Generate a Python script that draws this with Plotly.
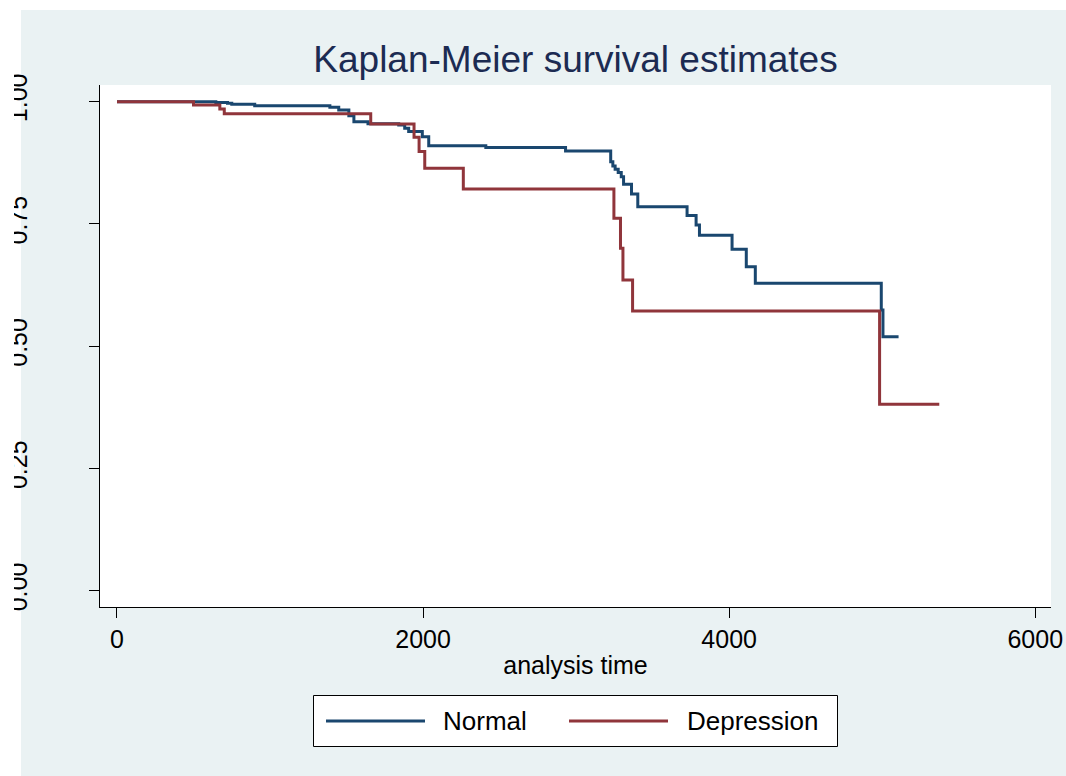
import plotly.graph_objects as go

# Kaplan-Meier step estimates by group (analysis time, survival probability)
normal_time = [0, 646, 722, 750, 900, 1391, 1449, 1515, 1548, 1640, 1841, 1880,
               1906, 1995, 2037, 2410, 2931, 3226, 3240, 3255, 3275, 3295, 3310,
               3362, 3403, 3725, 3784, 3806, 4019, 4112, 4171, 4994, 5005, 5107]
normal_surv = [1.0, 0.998, 0.9967, 0.9947, 0.9918, 0.9885, 0.983, 0.971, 0.959,
               0.955, 0.952, 0.9456, 0.9387, 0.9284, 0.910, 0.906, 0.899, 0.877,
               0.8685, 0.8617, 0.855, 0.8466, 0.831, 0.811, 0.785, 0.767, 0.748,
               0.727, 0.698, 0.6626, 0.6286, 0.574, 0.5194, 0.5194]

depr_time = [0, 500, 672, 701, 1658, 1941, 1974, 2011, 2263, 3247, 3290, 3306,
             3369, 4983, 5373]
depr_surv = [1.0, 0.9932, 0.985, 0.975, 0.9544, 0.927, 0.898, 0.864, 0.8215,
             0.7615, 0.700, 0.6354, 0.572, 0.381, 0.381]

x_ticks = [0, 2000, 4000, 6000]
y_ticks = [0, 0.25, 0.5, 0.75, 1.0]
y_tick_text = ["0.00", "0.25", "0.50", "0.75", "1.00"]

group_names = ["Normal", "Depression"]

NAVY = "#1a476f"
MAROON = "#90353b"
BG = "#eaf2f3"
FONT = "Liberation Sans, Arial, sans-serif"

W, H = 1066, 776
L, R, T, B = 100, 15, 85, 169

fig = go.Figure()
fig.add_trace(go.Scatter(x=normal_time, y=normal_surv, mode="lines",
                         name=group_names[0], showlegend=False,
                         line=dict(color=NAVY, width=3, shape="hv")))
fig.add_trace(go.Scatter(x=depr_time, y=depr_surv, mode="lines",
                         name=group_names[1], showlegend=False,
                         line=dict(color=MAROON, width=3, shape="hv")))

pw, ph = W - L - R, H - T - B


def px_x(p):
    return (p - L) / pw


def px_y(p):
    return (H - B - p) / ph


shapes = [
    # white page strips around the graph region
    dict(type="rect", xref="paper", yref="paper", layer="below",
         x0=px_x(-5), x1=px_x(21), y0=px_y(-5), y1=px_y(H + 5),
         fillcolor="white", line=dict(width=0)),
    dict(type="rect", xref="paper", yref="paper", layer="below",
         x0=px_x(-5), x1=px_x(W + 5), y0=px_y(-5), y1=px_y(10),
         fillcolor="white", line=dict(width=0)),
    # clip the outer edge of the rotated y labels
    dict(type="rect", xref="paper", yref="paper", layer="above",
         x0=px_x(-5), x1=px_x(14), y0=px_y(-5), y1=px_y(H + 5),
         fillcolor="white", line=dict(width=0)),
    # legend box
    dict(type="rect", xref="paper", yref="paper", layer="above",
         x0=px_x(313.5), x1=px_x(837.5), y0=px_y(695.5), y1=px_y(746.5),
         fillcolor="white", line=dict(color="black", width=1)),
    # legend keys
    dict(type="line", xref="paper", yref="paper", layer="above",
         x0=px_x(326), x1=px_x(425), y0=px_y(721), y1=px_y(721),
         line=dict(color=NAVY, width=3)),
    dict(type="line", xref="paper", yref="paper", layer="above",
         x0=px_x(569), x1=px_x(668), y0=px_y(721), y1=px_y(721),
         line=dict(color=MAROON, width=3)),
]

annotations = [
    dict(text=group_names[0], xref="paper", yref="paper", x=px_x(441), y=px_y(721),
         xanchor="left", yanchor="middle", showarrow=False,
         font=dict(family=FONT, size=26, color="black")),
    dict(text=group_names[1], xref="paper", yref="paper", x=px_x(685), y=px_y(721),
         xanchor="left", yanchor="middle", showarrow=False,
         font=dict(family=FONT, size=26, color="black")),
]

fig.update_layout(
    width=W, height=H,
    margin=dict(l=L, r=R, t=T, b=B, pad=0),
    paper_bgcolor=BG,
    plot_bgcolor="white",
    font=dict(family=FONT, size=25, color="black"),
    title=dict(text="Kaplan-Meier survival estimates",
               font=dict(family=FONT, size=37, color="#1c2b52"),
               x=0.5, xref="paper", xanchor="center",
               y=1 - 59 / H, yref="container", yanchor="middle"),
    xaxis=dict(range=[-111, 6103], tickvals=x_ticks, ticks="outside", ticklen=10,
               tickwidth=1, tickcolor="black", showline=True, linecolor="black",
               linewidth=1, showgrid=False, zeroline=False, automargin=False,
               tickfont=dict(size=25),
               title=dict(text="analysis time", font=dict(size=25), standoff=4)),
    yaxis=dict(range=[-0.0333, 1.034], tickvals=y_ticks, ticktext=y_tick_text,
               tickangle=-90, ticks="outside", ticklen=10, tickwidth=1,
               tickcolor="black", showline=True, linecolor="black", linewidth=1,
               showgrid=False, zeroline=False, automargin=False,
               tickfont=dict(size=25), ticklabelstandoff=52),
    shapes=shapes,
    annotations=annotations,
    showlegend=False,
)

fig.write_html("out.html")
